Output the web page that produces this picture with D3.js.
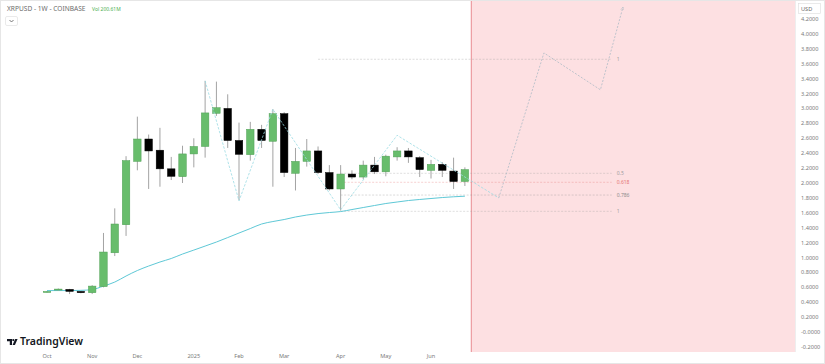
<!DOCTYPE html>
<html>
<head>
<meta charset="utf-8">
<script src="https://cdn.jsdelivr.net/npm/d3@7"></script>
<style>
  body { margin: 0; background: #fff; }
  svg { display: block; font-family: "Noto Sans", "DejaVu Sans", sans-serif; }
</style>
</head>
<body>
<svg id="chart" width="825" height="364"></svg>
<script>
// weekly XRPUSD candles
const weeks = [
  '2024-10-07', '2024-10-14', '2024-10-21', '2024-10-28', '2024-11-04', '2024-11-11',
  '2024-11-18', '2024-11-25', '2024-12-02', '2024-12-09', '2024-12-16', '2024-12-23',
  '2024-12-30', '2025-01-06', '2025-01-13', '2025-01-20', '2025-01-27', '2025-02-03',
  '2025-02-10', '2025-02-17', '2025-02-24', '2025-03-03', '2025-03-10', '2025-03-17',
  '2025-03-24', '2025-03-31', '2025-04-07', '2025-04-14', '2025-04-21', '2025-04-28',
  '2025-05-05', '2025-05-12', '2025-05-19', '2025-05-26', '2025-06-02', '2025-06-09',
  '2025-06-16', '2025-06-23'
];
const opens = [0.54, 0.564, 0.573, 0.546, 0.528, 0.61, 1.064, 1.44, 2.29, 2.59, 2.44, 2.19,
  2.085, 2.39, 2.49, 2.935, 3.0, 2.57, 2.38, 2.72, 2.56, 2.93, 2.13, 2.29,
  2.43, 2.14, 1.92, 2.12, 2.08, 2.24, 2.15, 2.35, 2.43, 2.34, 2.17, 2.25, 2.16, 2.02];
const highs = [0.55, 0.585, 0.58, 0.55, 0.63, 1.33, 1.66, 2.36, 2.89, 2.65, 2.74, 2.35,
  2.50, 2.60, 3.37, 3.36, 3.19, 2.81, 2.82, 2.78, 2.99, 2.95, 2.47, 2.59,
  2.49, 2.24, 2.24, 2.17, 2.30, 2.35, 2.38, 2.48, 2.47, 2.36, 2.31, 2.28, 2.34, 2.21];
const lows = [0.53, 0.555, 0.51, 0.52, 0.51, 0.60, 1.02, 1.29, 2.17, 1.92, 1.95, 2.04,
  2.0, 2.21, 2.34, 2.9, 2.47, 1.77, 2.3, 2.47, 1.95, 2.08, 1.90, 2.22,
  2.12, 1.9, 1.63, 2.05, 2.05, 2.12, 2.09, 2.30, 2.27, 2.08, 2.06, 2.08, 1.92, 1.96];
const closes = [0.545, 0.577, 0.546, 0.528, 0.617, 1.074, 1.45, 2.30, 2.59, 2.43, 2.19, 2.09,
  2.39, 2.49, 2.94, 3.01, 2.57, 2.385, 2.72, 2.57, 2.93, 2.14, 2.29, 2.43,
  2.14, 1.92, 2.12, 2.08, 2.24, 2.15, 2.36, 2.43, 2.35, 2.18, 2.25, 2.17, 2.02, 2.18];
const maValues = [0.557, 0.557, 0.557, 0.56, 0.57, 0.617, 0.671, 0.752, 0.826, 0.886, 0.94, 0.987,
  1.047, 1.10, 1.154, 1.208, 1.268, 1.329, 1.389, 1.45, 1.483, 1.51, 1.544, 1.57,
  1.59, 1.604, 1.617, 1.644, 1.671, 1.698, 1.725, 1.745, 1.765, 1.779, 1.792, 1.805, 1.815, 1.823];

// pattern drawn on the chart and the projected path
const zigzagDates = ['2025-01-13', '2025-02-03', '2025-02-24', '2025-04-07', '2025-05-12', '2025-07-14'];
const zigzagValues = [3.37, 1.76, 2.99, 1.64, 2.64, 1.80];
const projDates = ['2025-07-14', '2025-08-11', '2025-09-15', '2025-09-29'];
const projValues = [1.80, 3.745, 3.25, 4.36];

// fib retracement from the April low to the May high
const fibLevels = [0.5, 0.618, 0.786, 1];
const fibLabels = ['0.5', '0.618', '0.786', '1'];
const fibColors = ['#9e9e9e', '#e57373', '#8d8d8d', '#9e9e9e'];
const fibHigh = 2.64;
const fibLow = 1.62;
const fibStart = '2025-04-07';
const fibEnd = '2025-09-22';
const targetValue = 3.66;
const targetStart = '2025-03-24';

const shadeStart = '2025-06-27';

const monthLabels = ['Oct', 'Nov', 'Dec', '2025', 'Feb', 'Mar', 'Apr', 'May', 'Jun'];
const monthDates = ['2024-10-07', '2024-11-04', '2024-12-02', '2025-01-06', '2025-02-03',
  '2025-03-03', '2025-04-07', '2025-05-05', '2025-06-02'];
const yTicks = [4.2, 4.0, 3.8, 3.6, 3.4, 3.2, 3.0, 2.8, 2.6, 2.4, 2.2, 2.0, 1.8, 1.6, 1.4,
  1.2, 1.0, 0.8, 0.6, 0.4, 0.2, 0, -0.2];

const parse = d3.timeParse('%Y-%m-%d');
const W = 825, H = 364;
const plotRight = 795, plotBottom = 352;

const svg = d3.select('#chart');

const x = d3.scaleTime()
  .domain([parse('2024-10-07'), parse('2025-06-02')])
  .range([47, 431]);
const y = d3.scaleLinear()
  .domain([-0.2, 4.2])
  .range([347, 19]);

const candles = weeks.map((w, i) => ({
  date: parse(w), o: opens[i], h: highs[i], l: lows[i], c: closes[i]
}));

// frame
svg.append('rect')
  .attr('x', 0.5).attr('y', 0.5)
  .attr('width', W - 1).attr('height', H - 1)
  .attr('fill', '#fff')
  .attr('stroke', '#e6e6e6');

// shaded future zone
const sx = x(parse(shadeStart));
svg.append('rect')
  .attr('x', sx).attr('y', 1)
  .attr('width', plotRight - sx).attr('height', plotBottom - 1)
  .attr('fill', '#fde0e2');
svg.append('line')
  .attr('x1', sx).attr('x2', sx)
  .attr('y1', 1).attr('y2', plotBottom)
  .attr('stroke', '#ec9a9f')
  .attr('stroke-width', 1.2);

// fib levels
const fib = svg.append('g').attr('class', 'fib');
fibLevels.forEach((lv, i) => {
  const yy = y(fibHigh - lv * (fibHigh - fibLow));
  fib.append('line')
    .attr('x1', x(parse(fibStart))).attr('x2', x(parse(fibEnd)))
    .attr('y1', yy).attr('y2', yy)
    .attr('stroke', fibColors[i])
    .attr('stroke-opacity', 0.55)
    .attr('stroke-width', 0.6)
    .attr('stroke-dasharray', '2,1.5');
  fib.append('text')
    .attr('x', x(parse(fibEnd)) + 5).attr('y', yy + 2)
    .attr('font-size', 5)
    .attr('fill', fibColors[i])
    .text(fibLabels[i]);
});
fib.append('line')
  .attr('x1', x(parse(targetStart))).attr('x2', x(parse(fibEnd)))
  .attr('y1', y(targetValue)).attr('y2', y(targetValue))
  .attr('stroke', '#9e9e9e')
  .attr('stroke-opacity', 0.6)
  .attr('stroke-width', 0.6)
  .attr('stroke-dasharray', '2,1.5');
fib.append('text')
  .attr('x', x(parse(fibEnd)) + 5).attr('y', y(targetValue) + 2)
  .attr('font-size', 5)
  .attr('fill', '#9e9e9e')
  .text('1');

// moving average
const maLine = d3.line()
  .x((d, i) => x(candles[i].date))
  .y(d => y(d))
  .curve(d3.curveMonotoneX);
svg.append('path')
  .datum(maValues)
  .attr('d', maLine)
  .attr('fill', 'none')
  .attr('stroke', '#5ec8d6')
  .attr('stroke-width', 1);

// candles
const cg = svg.append('g').attr('class', 'candles');
const bw = 7.5;
cg.selectAll('line.wick')
  .data(candles)
  .join('line')
  .attr('class', 'wick')
  .attr('x1', d => x(d.date)).attr('x2', d => x(d.date))
  .attr('y1', d => y(d.h)).attr('y2', d => y(d.l))
  .attr('stroke', '#a3a3a3')
  .attr('stroke-width', 1);
cg.selectAll('rect.body')
  .data(candles)
  .join('rect')
  .attr('class', 'body')
  .attr('x', d => x(d.date) - bw / 2)
  .attr('y', d => y(Math.max(d.o, d.c)))
  .attr('width', bw)
  .attr('height', d => Math.max(1, Math.abs(y(d.o) - y(d.c))))
  .attr('fill', d => (d.c >= d.o ? '#68bd6c' : '#000'))
  .attr('stroke', d => (d.c >= d.o ? '#4f9f55' : '#000'))
  .attr('stroke-width', 0.5);

// pattern zigzag
const ptLine = d3.line()
  .x(d => x(parse(d[0])))
  .y(d => y(d[1]));
svg.append('path')
  .datum(zigzagDates.map((d, i) => [d, zigzagValues[i]]))
  .attr('d', ptLine)
  .attr('fill', 'none')
  .attr('stroke', '#9adbe3')
  .attr('stroke-width', 0.8)
  .attr('stroke-dasharray', '2.5,1.5');

// projected path with arrow
svg.append('defs').append('marker')
  .attr('id', 'arrow')
  .attr('viewBox', '0 0 10 10')
  .attr('refX', 9).attr('refY', 5)
  .attr('markerWidth', 5).attr('markerHeight', 5)
  .attr('orient', 'auto')
  .append('path')
  .attr('d', 'M0,1 L9,5 L0,9')
  .attr('fill', 'none')
  .attr('stroke', '#a4b6c2')
  .attr('stroke-width', 1.2);
svg.append('path')
  .datum(projDates.map((d, i) => [d, projValues[i]]))
  .attr('d', ptLine)
  .attr('fill', 'none')
  .attr('stroke', '#a4b6c2')
  .attr('stroke-width', 0.7)
  .attr('stroke-dasharray', '2,1.5')
  .attr('marker-end', 'url(#arrow)');

// price axis
const ax = svg.append('g').attr('class', 'price-axis');
ax.append('line')
  .attr('x1', plotRight + 0.5).attr('x2', plotRight + 0.5)
  .attr('y1', 1).attr('y2', plotBottom)
  .attr('stroke', '#eeeeee');
ax.selectAll('text.tick')
  .data(yTicks)
  .join('text')
  .attr('class', 'tick')
  .attr('x', 801)
  .attr('y', d => y(d) + 2)
  .attr('font-size', 5.6)
  .attr('fill', '#7a7a7a')
  .text(d => (d === 0 ? '-0.0000' : d3.format('.4f')(d).replace('−', '-')));
ax.append('rect')
  .attr('x', 798.5).attr('y', 3.5)
  .attr('width', 22).attr('height', 10)
  .attr('fill', '#fff')
  .attr('stroke', '#dddddd')
  .attr('stroke-width', 0.6);
ax.append('text')
  .attr('x', 801).attr('y', 10.5)
  .attr('font-size', 5.6)
  .attr('fill', '#666')
  .text('USD');

// time axis
svg.append('g')
  .attr('class', 'time-axis')
  .selectAll('text')
  .data(monthDates)
  .join('text')
  .attr('x', d => x(parse(d)))
  .attr('y', 358)
  .attr('text-anchor', 'middle')
  .attr('font-size', 5.6)
  .attr('fill', '#7a7a7a')
  .text((d, i) => monthLabels[i]);

// header
svg.append('text')
  .attr('x', 7).attr('y', 11)
  .attr('font-size', 6.6)
  .attr('fill', '#6b6b6b')
  .text('XRPUSD - 1W - COINBASE');
svg.append('text')
  .attr('x', 92).attr('y', 11)
  .attr('font-size', 5)
  .attr('fill', '#4caf50')
  .text('Vol 200.61M');
svg.append('rect')
  .attr('x', 5.5).attr('y', 16.5)
  .attr('width', 12).attr('height', 9)
  .attr('rx', 1.5)
  .attr('fill', '#fff')
  .attr('stroke', '#dcdcdc')
  .attr('stroke-width', 0.6);
svg.append('path')
  .attr('d', 'M9.5,20 L11.5,22 L13.5,20')
  .attr('fill', 'none')
  .attr('stroke', '#555')
  .attr('stroke-width', 0.8);

// logo
const logo = svg.append('g').attr('transform', 'translate(7,339)');
logo.append('path')
  .attr('d', 'M0,0 H5 V6 H2.8 V2.2 H0 Z')
  .attr('fill', '#131722');
logo.append('circle')
  .attr('cx', 6.3).attr('cy', 1.1).attr('r', 1.1)
  .attr('fill', '#131722');
logo.append('path')
  .attr('d', 'M8.2,0 H10.6 L7.9,6 H5.6 Z')
  .attr('fill', '#131722');
logo.append('text')
  .attr('x', 13).attr('y', 6.3)
  .attr('font-size', 10.5)
  .attr('font-weight', 600)
  .attr('fill', '#131722')
  .text('TradingView');
</script>
</body>
</html>
